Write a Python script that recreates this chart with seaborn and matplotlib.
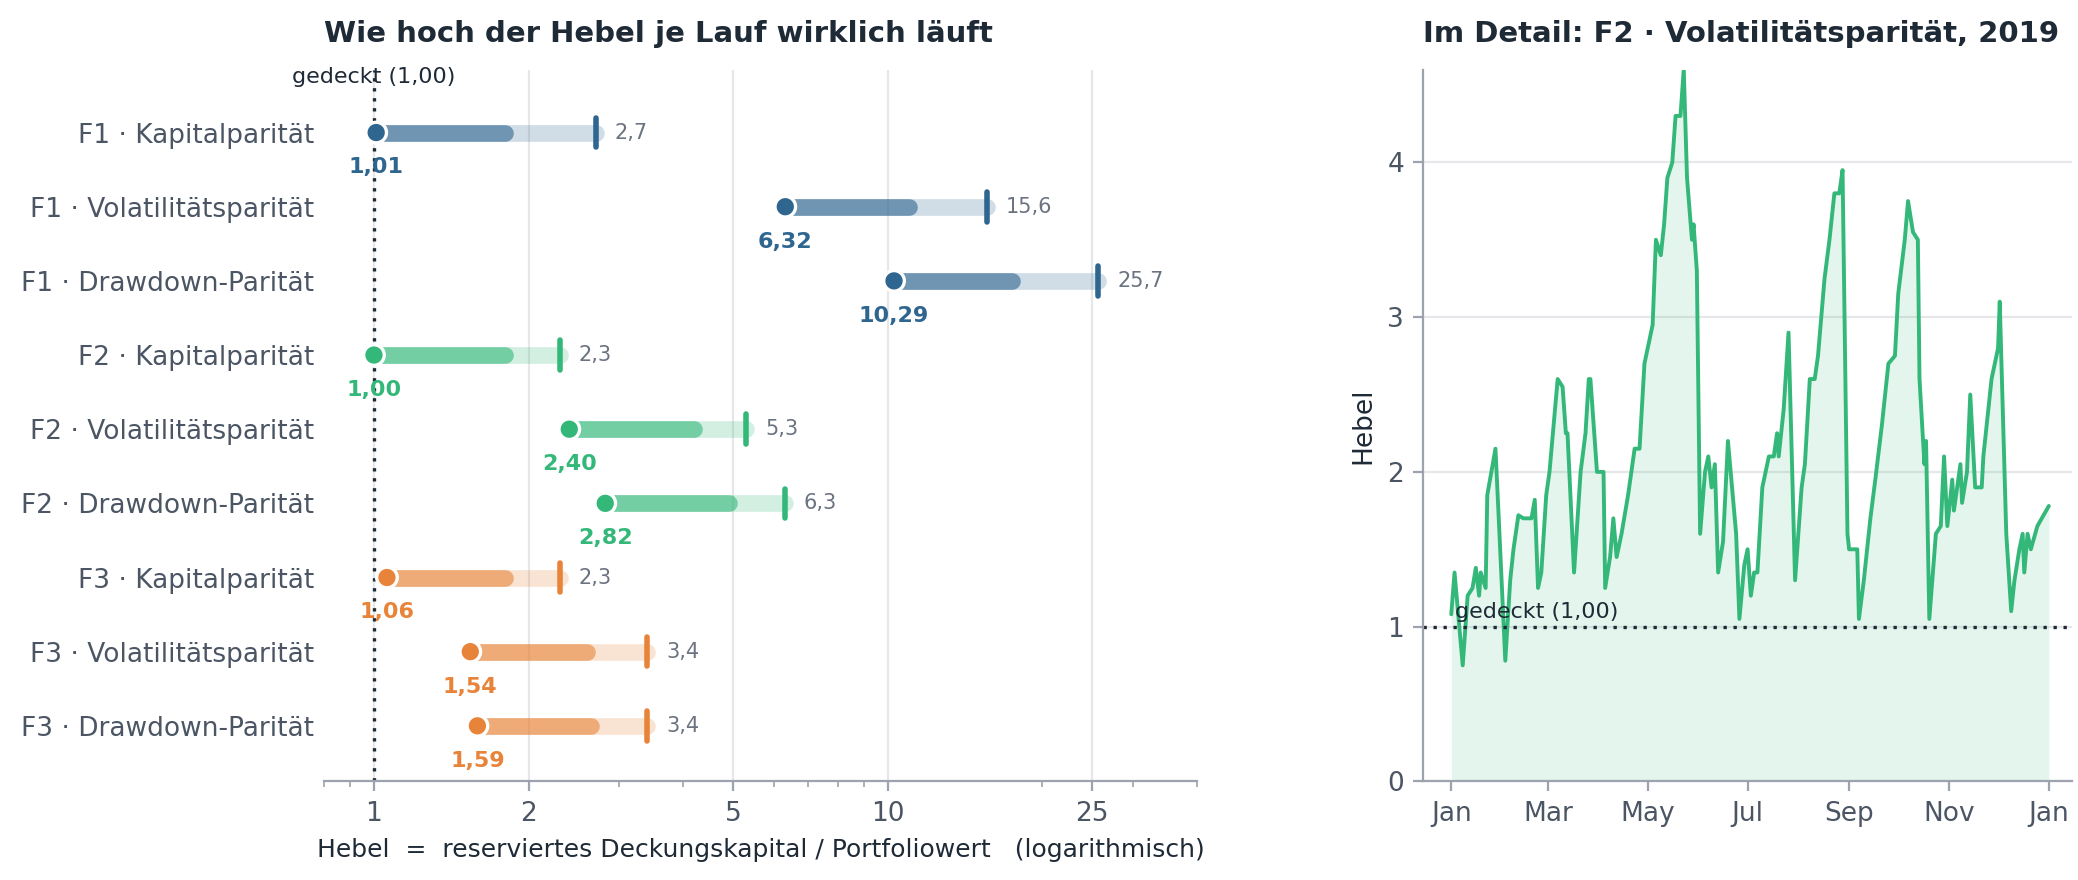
import matplotlib.pyplot as plt
import seaborn as sns
import pandas as pd
import numpy as np
from matplotlib.ticker import FixedLocator, NullFormatter

# Left panel data
labels = ['F1 · Kapitalparität', 'F1 · Volatilitätsparität', 'F1 · Drawdown-Parität',
          'F2 · Kapitalparität', 'F2 · Volatilitätsparität', 'F2 · Drawdown-Parität',
          'F3 · Kapitalparität', 'F3 · Volatilitätsparität', 'F3 · Drawdown-Parität']
families = ['F1', 'F1', 'F1', 'F2', 'F2', 'F2', 'F3', 'F3', 'F3']
median = [1.01, 6.32, 10.29, 1.00, 2.40, 2.82, 1.06, 1.54, 1.59]
upper = [1.8, 11.0, 17.5, 1.8, 4.2, 4.9, 1.8, 2.6, 2.65]
peak = [2.7, 15.6, 25.7, 2.3, 5.3, 6.3, 2.3, 3.4, 3.4]

# Right panel data: F2 Volatilitätsparität, 2019 (day of year, leverage)
days = [0, 2, 7, 10, 13, 15, 17, 18, 21, 22,
        27, 29, 33, 36, 38, 41, 44, 49, 51, 53,
        55, 58, 60, 65, 68, 70, 71, 75, 79, 82,
        84, 85, 89, 93, 94, 97, 99, 101, 104, 108,
        112, 115, 118, 123, 125, 128, 130, 132, 135, 137,
        140, 142, 144, 147, 148, 150, 152, 155, 157, 159,
        161, 163, 166, 169, 174, 176, 179, 181, 183, 185,
        187, 190, 194, 197, 199, 200, 203, 206, 210, 214,
        216, 219, 222, 224, 228, 231, 234, 237, 239, 242,
        243, 248, 249, 252, 256, 259, 263, 267, 271, 273,
        277, 279, 282, 285, 286, 289, 290, 292, 296, 299,
        301, 303, 306, 307, 311, 312, 315, 317, 320, 324,
        325, 328, 330, 334, 335, 339, 342, 344, 347, 349,
        350, 352, 354, 358, 365]
lev = [1.08, 1.35, 0.75, 1.2, 1.25, 1.38, 1.2, 1.35, 1.25, 1.85,
       2.15, 1.7, 0.78, 1.3, 1.5, 1.72, 1.7, 1.7, 1.82, 1.25,
       1.35, 1.85, 2.0, 2.6, 2.55, 2.25, 2.25, 1.35, 2.0, 2.25,
       2.6, 2.6, 2.0, 2.0, 1.25, 1.45, 1.7, 1.45, 1.6, 1.85,
       2.15, 2.15, 2.7, 2.95, 3.5, 3.4, 3.6, 3.9, 4.0, 4.3,
       4.3, 4.6, 3.9, 3.5, 3.6, 3.3, 1.6, 2.0, 2.1, 1.9,
       2.05, 1.35, 1.55, 2.2, 1.6, 1.05, 1.4, 1.5, 1.2, 1.35,
       1.35, 1.9, 2.1, 2.1, 2.25, 2.1, 2.4, 2.9, 1.3, 1.9,
       2.05, 2.6, 2.6, 2.75, 3.25, 3.5, 3.8, 3.8, 3.95, 1.6,
       1.5, 1.5, 1.05, 1.3, 1.7, 1.95, 2.3, 2.7, 2.75, 3.15,
       3.5, 3.75, 3.55, 3.5, 2.6, 2.05, 2.2, 1.05, 1.6, 1.65,
       2.1, 1.65, 1.95, 1.75, 2.05, 1.8, 2.0, 2.5, 1.9, 1.9,
       2.1, 2.4, 2.6, 2.8, 3.1, 1.6, 1.1, 1.3, 1.5, 1.6,
       1.35, 1.6, 1.5, 1.65, 1.78]

colors = {'F1': '#2f6690', 'F2': '#34b87a', 'F3': '#e8843a'}
ink = '#1f2a37'
grey = '#4b5563'

sns.set_theme(style='white')
plt.rcParams['font.family'] = ['DejaVu Sans']

fig = plt.figure(figsize=(10.39, 4.4), dpi=200)
ax = fig.add_axes([0.156, 0.112, 0.42, 0.809])
ax2 = fig.add_axes([0.685, 0.112, 0.312, 0.809])

df = pd.DataFrame({'label': labels, 'family': families, 'median': median,
                   'upper': upper, 'peak': peak})
df['y'] = np.arange(len(df))

ax.set_xscale('log')
for _, r in df.iterrows():
    c = colors[r['family']]
    ax.plot([r['median'], r['peak']], [r['y'], r['y']], color=c, alpha=0.22,
            lw=6, solid_capstyle='round', zorder=2)
    ax.plot([r['median'], r['upper']], [r['y'], r['y']], color=c, alpha=0.6,
            lw=6, solid_capstyle='round', zorder=3)
    ax.plot([r['peak'], r['peak']], [r['y'] - 0.2, r['y'] + 0.2], color=c, lw=2, zorder=4)
    ax.text(r['peak'] * 1.09, r['y'], f"{r['peak']:.1f}".replace('.', ','),
            va='center', ha='left', fontsize=7.5, color='#6b7280')
    ax.text(r['median'], r['y'] + 0.47, f"{r['median']:.2f}".replace('.', ','),
            va='center', ha='center', fontsize=8, fontweight='bold', color=c)
sns.scatterplot(data=df, x='median', y='y', hue='family', palette=colors, s=55,
                edgecolor='white', linewidth=1.2, zorder=5, legend=False, ax=ax)

ax.axvline(1.0, color=ink, ls=(0, (1, 2)), lw=1.2, zorder=1)
ax.text(1.0, -0.75, 'gedeckt (1,00)', ha='center', va='center', fontsize=8, color=ink)
ax.set_xlim(0.8, 40)
ax.set_ylim(8.75, -0.85)
ax.set_yticks(df['y'])
ax.set_yticklabels(labels, fontsize=9.5, color=grey)
ax.xaxis.set_major_locator(FixedLocator([1, 2, 5, 10, 25]))
ax.set_xticklabels(['1', '2', '5', '10', '25'], fontsize=9.5, color=grey)
ax.xaxis.set_minor_formatter(NullFormatter())
ax.tick_params(axis='x', which='major', bottom=True, length=3.5, width=0.8, color='#9ca3af')
ax.tick_params(axis='x', which='minor', bottom=True, length=2, width=0.6, color='#9ca3af')
ax.tick_params(axis='y', length=0)
ax.grid(axis='x', which='major', color='#e5e7eb', lw=0.8)
ax.set_axisbelow(True)
for s in ['top', 'right', 'left']:
    ax.spines[s].set_visible(False)
ax.spines['bottom'].set_color('#9ca3af')
ax.spines['bottom'].set_linewidth(0.8)
ax.set_xlabel('Hebel  =  reserviertes Deckungskapital / Portfoliowert   (logarithmisch)',
              fontsize=9, color=ink)
ax.set_ylabel('')
ax.set_title('Wie hoch der Hebel je Lauf wirklich läuft', fontsize=10.5,
             fontweight='bold', color=ink, pad=10, loc='left')

# Right panel
ts = pd.DataFrame({'date': pd.Timestamp('2019-01-01') + pd.to_timedelta(days, unit='D'),
                   'lev': lev})
ax2.fill_between(ts['date'], 0, ts['lev'], color=colors['F2'], alpha=0.13, lw=0)
sns.lineplot(data=ts, x='date', y='lev', color=colors['F2'], lw=1.4, ax=ax2)
ax2.axhline(1.0, color=ink, ls=(0, (1, 2)), lw=1.2)
ax2.text(pd.Timestamp('2019-01-03'), 1.03, 'gedeckt (1,00)', fontsize=8, color=ink,
         ha='left', va='bottom')
ax2.set_xlim(pd.Timestamp('2018-12-15'), pd.Timestamp('2020-01-15'))
ax2.set_ylim(0, 4.6)
ax2.set_yticks([0, 1, 2, 3, 4])
months = pd.to_datetime(['2019-01-01', '2019-03-01', '2019-05-01', '2019-07-01',
                         '2019-09-01', '2019-11-01', '2020-01-01'])
ax2.set_xticks(months)
ax2.set_xticklabels(['Jan', 'Mar', 'May', 'Jul', 'Sep', 'Nov', 'Jan'], fontsize=9.5, color=grey)
ax2.tick_params(axis='y', labelsize=9.5, labelcolor=grey, left=True, length=3.5,
                width=0.8, color='#9ca3af')
ax2.tick_params(axis='x', bottom=True, length=3.5, width=0.8, color='#9ca3af')
ax2.grid(axis='y', color='#e5e7eb', lw=0.8)
ax2.set_axisbelow(True)
for s in ['top', 'right']:
    ax2.spines[s].set_visible(False)
for s in ['left', 'bottom']:
    ax2.spines[s].set_color('#9ca3af')
    ax2.spines[s].set_linewidth(0.8)
ax2.set_xlabel('')
ax2.set_ylabel('Hebel', fontsize=9.5, color=ink)
ax2.set_title('Im Detail: F2 · Volatilitätsparität, 2019', fontsize=10.5,
              fontweight='bold', color=ink, pad=10, loc='left')

fig.savefig('out.png', dpi=200)
